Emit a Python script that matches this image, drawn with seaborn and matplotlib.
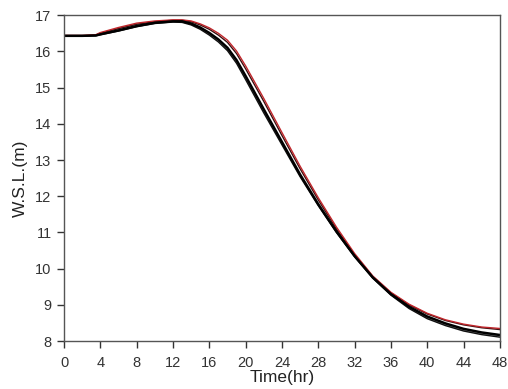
import numpy as np
import pandas as pd
import matplotlib
matplotlib.use("Agg")
import matplotlib.pyplot as plt
import seaborn as sns

# time axis (hr)
time_hr = [0, 2, 3.5, 4, 6, 8, 10, 12, 13, 14, 15, 16, 17, 18, 19, 20, 22, 24, 26, 28, 30, 32, 34, 36, 38, 40, 42, 44, 46, 48]

# water surface level (m) for each run
wsl_black = [16.43, 16.43, 16.44, 16.47, 16.58, 16.70, 16.79, 16.83, 16.83, 16.77, 16.66, 16.51, 16.33, 16.10, 15.76, 15.32, 14.40, 13.50, 12.60, 11.78, 11.03, 10.35, 9.76, 9.30, 8.95, 8.68, 8.49, 8.34, 8.24, 8.17]
wsl_black2 = [16.42, 16.42, 16.43, 16.46, 16.56, 16.68, 16.77, 16.81, 16.80, 16.73, 16.61, 16.45, 16.26, 16.02, 15.67, 15.22, 14.30, 13.42, 12.54, 11.74, 11.00, 10.33, 9.74, 9.27, 8.90, 8.62, 8.43, 8.28, 8.18, 8.11]
wsl_gray = [16.44, 16.44, 16.45, 16.50, 16.63, 16.75, 16.81, 16.84, 16.82, 16.75, 16.63, 16.48, 16.29, 16.05, 15.71, 15.27, 14.35, 13.46, 12.57, 11.77, 11.03, 10.35, 9.76, 9.29, 8.92, 8.64, 8.45, 8.30, 8.20, 8.14]
wsl_red = [16.44, 16.44, 16.46, 16.52, 16.66, 16.78, 16.84, 16.87, 16.87, 16.84, 16.76, 16.65, 16.50, 16.31, 16.01, 15.60, 14.70, 13.76, 12.83, 11.96, 11.15, 10.42, 9.80, 9.35, 9.02, 8.77, 8.59, 8.47, 8.39, 8.35]
wsl_dark = [16.43, 16.43, 16.45, 16.50, 16.63, 16.75, 16.82, 16.86, 16.86, 16.82, 16.73, 16.61, 16.45, 16.25, 15.94, 15.52, 14.62, 13.68, 12.76, 11.90, 11.10, 10.38, 9.78, 9.33, 9.00, 8.75, 8.57, 8.45, 8.37, 8.32]

runs = {
    "gray": (wsl_gray, "#8a8a8a", 1.0),
    "black2": (wsl_black2, "#111111", 1.0),
    "dark": (wsl_dark, "#3a1010", 1.0),
    "red": (wsl_red, "#c0262b", 1.0),
    "black": (wsl_black, "#000000", 1.8),
}

sns.set_theme(style="ticks")
plt.rcParams["font.family"] = ["Liberation Sans", "DejaVu Sans"]

fig = plt.figure(figsize=(5.08, 3.89), dpi=100)
ax = fig.add_axes([0.126, 0.123, 0.858, 0.838])

for name, (vals, col, lw) in runs.items():
    df = pd.DataFrame({"t": time_hr, "wsl": vals})
    sns.lineplot(data=df, x="t", y="wsl", ax=ax, color=col, linewidth=lw)

ax.set_xlim(0, 48)
ax.set_ylim(8, 17)
ax.set_xticks(np.arange(0, 49, 4))
ax.set_yticks(np.arange(8, 18, 1))
ax.set_xlabel("Time(hr)", fontsize=12.5, color="#222222", labelpad=0)
ax.set_ylabel("W.S.L.(m)", fontsize=12.5, color="#222222", labelpad=5)
ax.tick_params(axis="both", labelsize=10.5, colors="#333333", direction="out", length=5, width=1)
ax.tick_params(axis="x", pad=6)
ax.tick_params(axis="y", pad=4)
ax.tick_params(top=False, right=False)
for side in ["top", "right", "left", "bottom"]:
    ax.spines[side].set_visible(True)
    ax.spines[side].set_color("#555555")
    ax.spines[side].set_linewidth(1.0)

fig.savefig("out.png", dpi=100)
plt.close(fig)
